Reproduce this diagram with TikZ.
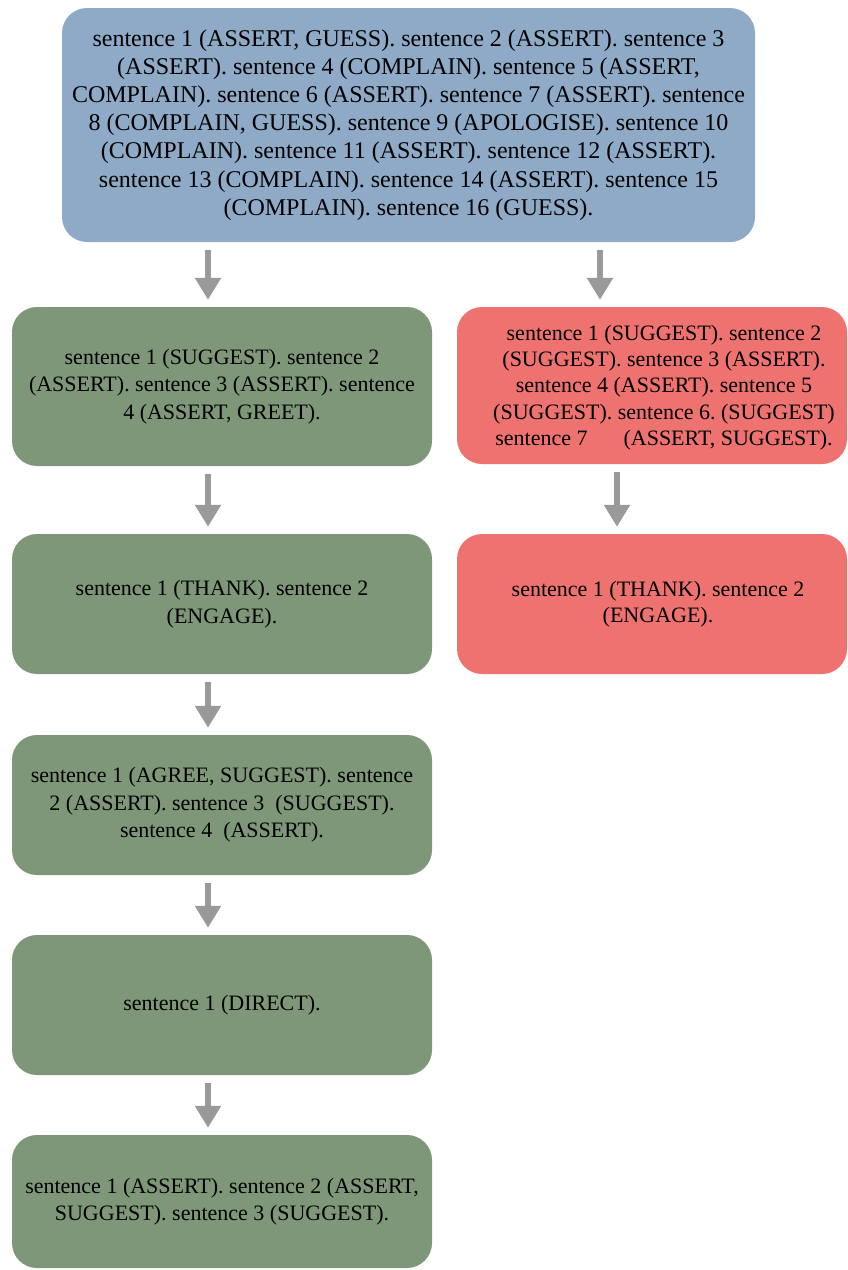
\documentclass[tikz,border=0pt]{standalone}
\usepackage{fontspec}
\setmainfont{Liberation Serif}
\usetikzlibrary{arrows.meta}
\definecolor{bluebox}{RGB}{143,170,198}
\definecolor{greenbox}{RGB}{126,151,120}
\definecolor{redbox}{RGB}{238,115,112}
\definecolor{arrowgray}{RGB}{154,154,154}
\frenchspacing
\tikzset{
  card/.style={rounded corners=25pt, draw=none, align=center, text=black,
    inner sep=0pt, font=\fontsize{22}{27.5}\selectfont},
  bluecard/.style={card, fill=bluebox, minimum width=693pt, minimum height=234pt,
    font=\fontsize{24}{28.2}\selectfont},
  greencard/.style={card, fill=greenbox, minimum width=420pt},
  redcard/.style={card, fill=redbox, minimum width=390pt},
  redtext/.style={align=center, text=black, inner sep=0pt, font=\fontsize{22}{26.3}\selectfont},
  flow/.style={draw=arrowgray, line width=6pt,
    -{Triangle[width=25pt,length=22pt]}, shorten <=8pt, shorten >=7pt}
}
\begin{document}
\begin{tikzpicture}[x=1pt,y=-1pt]
\useasboundingbox (0,0) rectangle (847,1270);
\coordinate (colL) at (208,0);
\coordinate (colR1) at (600,0);
\coordinate (colR2) at (617,0);

\node[bluecard] (top) at (408.5,125) {sentence 1 (ASSERT, GUESS). sentence 2 (ASSERT). sentence 3\\
(ASSERT). sentence 4 (COMPLAIN). sentence 5 (ASSERT,\\
COMPLAIN). sentence 6 (ASSERT). sentence 7 (ASSERT). sentence\\
8 (COMPLAIN, GUESS). sentence 9 (APOLOGISE). sentence 10\\
(COMPLAIN). sentence 11 (ASSERT). sentence 12 (ASSERT).\\
sentence 13 (COMPLAIN). sentence 14 (ASSERT). sentence 15\\
(COMPLAIN). sentence 16 (GUESS).};

\node[greencard, minimum height=159pt] (g1) at (222,386.5) {sentence 1 (SUGGEST). sentence 2\\
(ASSERT). sentence 3 (ASSERT). sentence\\
4 (ASSERT, GREET).};
\node[redcard, minimum height=157pt,
  label={[redtext, xshift=12pt, yshift=-2pt]center:{sentence 1 (SUGGEST). sentence 2\\
(SUGGEST). sentence 3 (ASSERT).\\
sentence 4 (ASSERT). sentence 5\\
(SUGGEST). sentence 6. (SUGGEST)\\
sentence 7\hspace{36pt}(ASSERT, SUGGEST).}}] (r1) at (652,385.5) {};

\node[greencard, minimum height=140pt] (g2) at (222,604) {sentence 1 (THANK). sentence 2\\
(ENGAGE).};
\node[redcard, minimum height=140pt,
  label={[redtext, xshift=6pt]center:{sentence 1 (THANK). sentence 2\\
(ENGAGE).}}] (r2) at (652,604) {};

\node[greencard, minimum height=140pt] (g3) at (222,805) {sentence 1 (AGREE, SUGGEST). sentence\\
2 (ASSERT). sentence 3\ \ (SUGGEST).\\
sentence 4\ \ (ASSERT).};

\node[greencard, minimum height=140pt] (g4) at (222,1005) {sentence 1 (DIRECT).};

\node[greencard, minimum height=133pt] (g5) at (222,1201.5) {sentence 1 (ASSERT). sentence 2 (ASSERT,\\
SUGGEST). sentence 3 (SUGGEST).};

\draw[flow] (top.south -| colL) -- (g1.north -| colL);
\draw[flow] (top.south -| colR1) -- (r1.north -| colR1);
\draw[flow] (g1.south -| colL) -- (g2.north -| colL);
\draw[flow] (r1.south -| colR2) -- (r2.north -| colR2);
\draw[flow] (g2.south -| colL) -- (g3.north -| colL);
\draw[flow] (g3.south -| colL) -- (g4.north -| colL);
\draw[flow] (g4.south -| colL) -- (g5.north -| colL);
\end{tikzpicture}
\end{document}
